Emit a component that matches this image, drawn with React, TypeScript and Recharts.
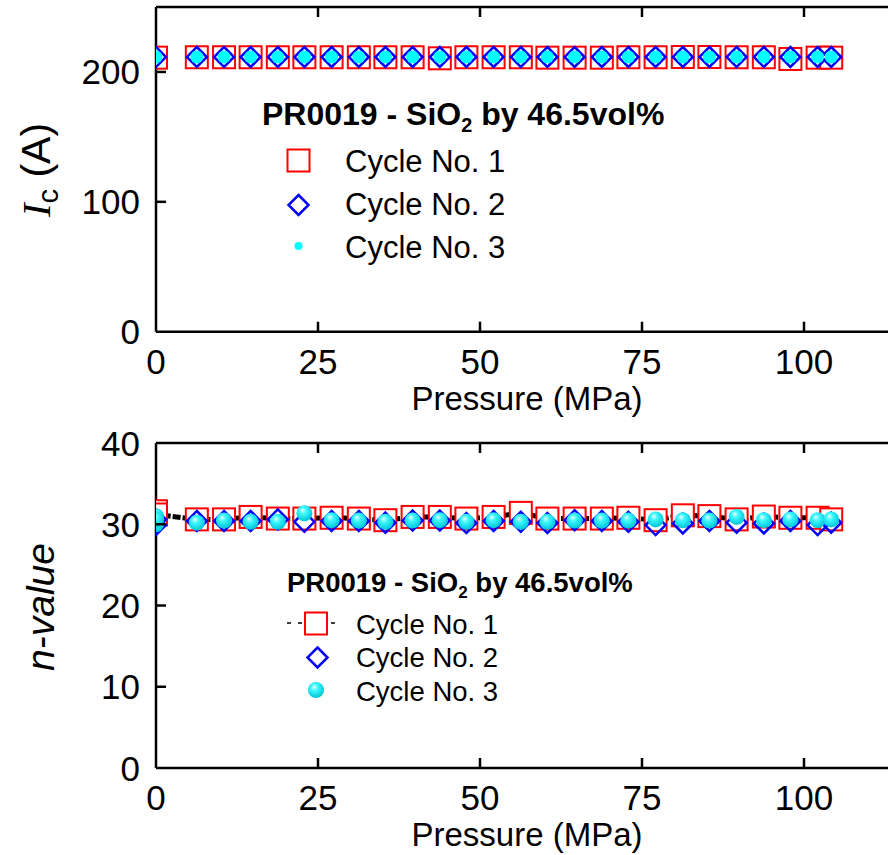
import React from 'react';
import { ScatterChart, Scatter, XAxis, YAxis, Legend, Label } from 'recharts';

document.body.style.margin = '0';

// applied pressure (MPa) at each measurement step
const pressure = [0, 6.3, 10.5, 14.6, 18.8, 22.9, 27.1, 31.3, 35.4, 39.6, 43.8, 47.9, 52.1, 56.3, 60.4, 64.6, 68.8, 72.9, 77.1, 81.3, 85.4, 89.6, 93.8, 97.9, 102.1, 104.2];

// critical current Ic (A)
const icCycle1 = [211, 211.3, 211.3, 211.3, 211.3, 211.3, 211.3, 211.3, 211.3, 211.3, 210.5, 211.3, 211.3, 211.3, 211, 211, 211, 211.3, 211.3, 211.5, 211.5, 211.3, 211.3, 210, 211, 211];
const icCycle2 = [211.5, 211.5, 211.5, 211.5, 211.5, 211.5, 211.5, 211.5, 211.5, 211.5, 211.5, 211.5, 211.5, 211.5, 211.5, 211.5, 211.5, 211.5, 211.5, 211.5, 211.5, 211.5, 211.5, 211.5, 211.5, 211.5];
const icCycle3 = [211.5, 211.5, 211.5, 211.5, 211.5, 211.5, 211.5, 211.5, 211.5, 211.5, 211.5, 211.5, 211.5, 211.5, 211.5, 211.5, 211.5, 211.5, 211.5, 211.5, 211.5, 211.5, 211.5, 211.5, 211.5, 211.5];

// n-value
const nCycle1 = [31.2, 30.6, 30.6, 30.9, 30.7, 30.7, 30.8, 30.7, 30.5, 30.9, 30.9, 30.7, 30.9, 31.4, 30.7, 30.7, 30.7, 30.8, 30.5, 31.1, 31.0, 30.6, 30.95, 30.8, 30.8, 30.6];
const nCycle2 = [30.6, 30.4, 30.4, 30.4, 30.6, 30.3, 30.4, 30.4, 30.2, 30.45, 30.45, 30.15, 30.4, 30.3, 30.15, 30.5, 30.4, 30.3, 29.9, 30.1, 30.4, 30.2, 30.1, 30.4, 29.9, 30.2];
const nCycle3 = [30.6, 30.2, 30.45, 30.3, 30.3, 31.35, 30.5, 30.45, 30.3, 30.45, 30.5, 30.3, 30.5, 30.3, 30.3, 30.45, 30.45, 30.45, 30.6, 30.5, 30.45, 30.9, 30.5, 30.6, 30.5, 30.6];
// repeated readings taken before loading (0 MPa)
const nZero1 = [31.6];
const nZero2 = [29.9];
const nZero3 = [31.0, 30.0];

const seriesNames = ['Cycle No. 1', 'Cycle No. 2', 'Cycle No. 3'];
const xTicks = [0, 25, 50, 75, 100];
const xTopTicks = [25, 50, 75, 100];
const icTicks = [0, 100, 200];
const nTicks = [0, 10, 20, 30, 40];

const toPoints = (ys: number[], zeros: number[] = []) => [
  ...zeros.map((y) => ({ x: 0, y })),
  ...ys.map((y, i) => ({ x: pressure[i], y })),
];

const FONT = '"Liberation Sans", Arial, sans-serif';
const RED = '#ff0000';
const BLUE = '#0000ff';
const CYAN = '#00ffff';

const CHART_W = 930;
const X_MAX = 115;
const PLOT_LEFT = 156;
const PLOT_RIGHT = PLOT_LEFT + X_MAX * 6.48;
const MARGIN_RIGHT = CHART_W - PLOT_RIGHT;
const LOWER_TOP = 420; // page offset of the n-value panel

const Square = ({ cx, cy }: any) => (
  <rect x={cx - 11} y={cy - 11} width={22} height={22} fill="#fff" stroke={RED} strokeWidth={2} />
);
const Diamond = ({ cx, cy }: any) => (
  <polygon
    points={`${cx},${cy - 10} ${cx + 10},${cy} ${cx},${cy + 10} ${cx - 10},${cy}`}
    fill="none"
    stroke={BLUE}
    strokeWidth={2.5}
  />
);
const Dot = ({ cx, cy }: any) => <circle cx={cx} cy={cy} r={6.5} fill={CYAN} />;
const Ball = ({ cx, cy }: any) => <circle cx={cx} cy={cy} r={8} fill="url(#ballShade)" />;

const bottomTick = (props: any) => {
  const { x, y, payload } = props;
  return (
    <g>
      {payload.value !== 0 && <line x1={x} x2={x} y1={y} y2={y - 10} stroke="#000" strokeWidth={2.5} />}
      <text x={x} y={y + 42} textAnchor="middle" fontSize={35} fontFamily={FONT} fill="#000">
        {payload.value}
      </text>
    </g>
  );
};

const topTick = (props: any) => {
  const { x, y } = props;
  return <line x1={x} x2={x} y1={y} y2={y + 10} stroke="#000" strokeWidth={2.5} />;
};

const leftTick = (top: number) => (props: any) => {
  const { x, y, payload } = props;
  return (
    <g>
      {payload.value !== 0 && payload.value !== top && (
        <line x1={x} x2={x + 10} y1={y} y2={y} stroke="#000" strokeWidth={2.5} />
      )}
      <text x={x - 16} y={y + 12.5} textAnchor="end" fontSize={35} fontFamily={FONT} fill="#000">
        {payload.value}
      </text>
    </g>
  );
};

const pressureLabel = (baseline: number) => () => (
  <text x={527} y={baseline} textAnchor="middle" fontSize={33} fontFamily={FONT} fill="#000">
    Pressure (MPa)
  </text>
);

const icLabel = () => (
  <text transform="rotate(-90, 50, 170)" x={50} y={170} textAnchor="middle" fontSize={41} fontFamily={FONT} fill="#000">
    <tspan fontFamily='"Liberation Serif", "Times New Roman", serif' fontStyle="italic">I</tspan>
    <tspan fontSize={29} dy={8}>c</tspan>
    <tspan dy={-8}> (A)</tspan>
  </text>
);

const nLabel = () => (
  <text
    transform={`rotate(-90, 54, ${607 - LOWER_TOP})`}
    x={54}
    y={607 - LOWER_TOP}
    textAnchor="middle"
    fontSize={39}
    fontStyle="italic"
    fontFamily={FONT}
    fill="#000"
  >
    n-value
  </text>
);

const Title = ({ x, y, size }: { x: number; y: number; size: number }) => (
  <text x={x} y={y} fontSize={size} fontWeight="bold" fontFamily={FONT} fill="#000">
    PR0019 - SiO
    <tspan fontSize={size * 0.62} dy={size * 0.22}>2</tspan>
    <tspan dy={-size * 0.22}> by 46.5vol%</tspan>
  </text>
);

const icLegend = () => (
  <svg width={700} height={300} style={{ display: 'block' }}>
    <Title x={262} y={125} size={32} />
    <Square cx={298.5} cy={160.5} />
    <Diamond cx={298.5} cy={205} />
    <circle cx={298.5} cy={246} r={4} fill={CYAN} />
    {seriesNames.map((name, i) => (
      <text key={name} x={345} y={172 + i * 43} fontSize={31} fontFamily={FONT} fill="#000">
        {name}
      </text>
    ))}
  </svg>
);

const nLegend = () => (
  <svg width={700} height={320} style={{ display: 'block' }}>
    <Title x={287} y={172} size={27.5} />
    <line x1={287} x2={338} y1={203} y2={203} stroke="#000" strokeWidth={1.5} strokeDasharray="4 7" />
    <Square cx={316} cy={203.5} />
    <Diamond cx={317.5} cy={237.5} />
    <Ball cx={316} cy={270} />
    {seriesNames.map((name, i) => (
      <text key={name} x={356} y={213.5 + i * 33.5} fontSize={27.5} fontFamily={FONT} fill="#000">
        {name}
      </text>
    ))}
  </svg>
);

const axisLine = { stroke: '#000', strokeWidth: 2.5 };

export default function App() {
  return (
    <div style={{ position: 'relative', width: 888, height: 855, overflow: 'hidden', background: '#fff' }}>
      <div style={{ position: 'absolute', left: 0, top: 0 }}>
        <ScatterChart width={CHART_W} height={420} margin={{ top: 6, right: MARGIN_RIGHT, left: 0, bottom: 0 }}>
          <XAxis
            type="number"
            dataKey="x"
            domain={[0, X_MAX]}
            ticks={xTicks}
            allowDataOverflow
            height={88.3}
            tickSize={0}
            tickMargin={0}
            tick={bottomTick}
            axisLine={axisLine}
            tickLine={false}
          >
            <Label content={pressureLabel(410)} />
          </XAxis>
          <XAxis
            xAxisId="top"
            orientation="top"
            type="number"
            dataKey="x"
            domain={[0, X_MAX]}
            ticks={xTopTicks}
            allowDataOverflow
            height={1}
            tickSize={0}
            tickMargin={0}
            tick={topTick}
            axisLine={axisLine}
            tickLine={false}
          />
          <YAxis
            type="number"
            dataKey="y"
            domain={[0, 250]}
            ticks={icTicks}
            width={PLOT_LEFT}
            tickSize={0}
            tickMargin={0}
            tick={leftTick(250)}
            axisLine={axisLine}
            tickLine={false}
          >
            <Label content={icLabel} />
          </YAxis>
          <Scatter name={seriesNames[0]} data={toPoints(icCycle1)} shape={Square} isAnimationActive={false} />
          <Scatter name={seriesNames[1]} data={toPoints(icCycle2)} shape={Diamond} isAnimationActive={false} />
          <Scatter xAxisId="top" name={seriesNames[2]} data={toPoints(icCycle3)} shape={Dot} isAnimationActive={false} />
          <Legend
            content={icLegend}
            layout="vertical"
            align="center"
            verticalAlign="middle"
            wrapperStyle={{ left: 0, top: 0, width: 700, height: 300, pointerEvents: 'none' }}
          />
        </ScatterChart>
      </div>
      <div style={{ position: 'absolute', left: 0, top: LOWER_TOP }}>
        <ScatterChart width={CHART_W} height={855 - LOWER_TOP} margin={{ top: 22, right: MARGIN_RIGHT, left: 0, bottom: 0 }}>
          <defs>
            <radialGradient id="ballShade" cx="0.45" cy="0.4" r="0.6" fx="0.38" fy="0.3">
              <stop offset="0%" stopColor="#e8ffff" />
              <stop offset="35%" stopColor="#3ff8ff" />
              <stop offset="100%" stopColor="#00c4d6" />
            </radialGradient>
          </defs>
          <XAxis
            type="number"
            dataKey="x"
            domain={[0, X_MAX]}
            ticks={xTicks}
            allowDataOverflow
            height={87}
            tickSize={0}
            tickMargin={0}
            tick={bottomTick}
            axisLine={axisLine}
            tickLine={false}
          >
            <Label content={pressureLabel(846 - LOWER_TOP)} />
          </XAxis>
          <XAxis
            xAxisId="top"
            orientation="top"
            type="number"
            dataKey="x"
            domain={[0, X_MAX]}
            ticks={xTopTicks}
            allowDataOverflow
            height={1}
            tickSize={0}
            tickMargin={0}
            tick={topTick}
            axisLine={axisLine}
            tickLine={false}
          />
          <YAxis
            type="number"
            dataKey="y"
            domain={[0, 40]}
            ticks={nTicks}
            width={PLOT_LEFT}
            tickSize={0}
            tickMargin={0}
            tick={leftTick(40)}
            axisLine={axisLine}
            tickLine={false}
          >
            <Label content={nLabel} />
          </YAxis>
          <Scatter
            name={seriesNames[0]}
            data={toPoints(nCycle1, nZero1)}
            shape={Square}
            line={{ stroke: '#000', strokeWidth: 5, strokeDasharray: '8 2' }}
            isAnimationActive={false}
          />
          <Scatter name={seriesNames[1]} data={toPoints(nCycle2, nZero2)} shape={Diamond} isAnimationActive={false} />
          <Scatter xAxisId="top" name={seriesNames[2]} data={toPoints(nCycle3, nZero3)} shape={Ball} isAnimationActive={false} />
          <Legend
            content={nLegend}
            layout="vertical"
            align="center"
            verticalAlign="middle"
            wrapperStyle={{ left: 0, top: 0, width: 700, height: 320, pointerEvents: 'none' }}
          />
        </ScatterChart>
      </div>
    </div>
  );
}
